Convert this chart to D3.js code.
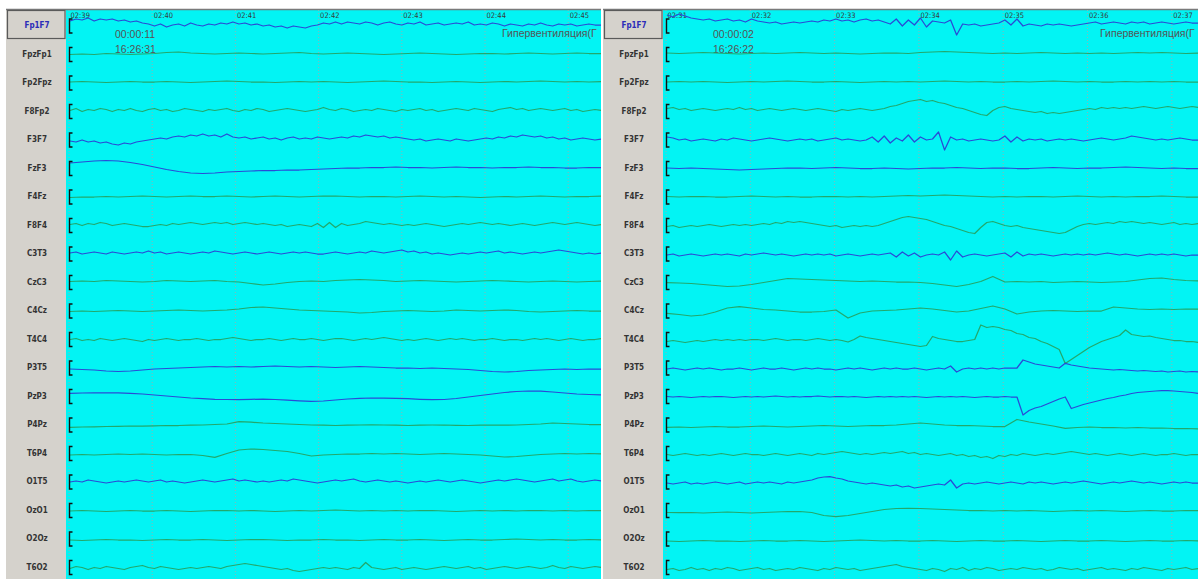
<!DOCTYPE html>
<html>
<head>
<meta charset="utf-8">
<script src="https://cdnjs.cloudflare.com/ajax/libs/d3/7.8.5/d3.min.js"></script>
<style>
	body { margin: 0; background: #fff; }
	svg { display: block; }
</style>
</head>
<body>
<svg id="vis" width="1198" height="579"></svg>
<script>
// montage, top to bottom
var channels = ["Fp1F7", "FpzFp1", "Fp2Fpz", "F8Fp2", "F3F7", "FzF3", "F4Fz", "F8F4", "C3T3", "CzC3",
                "C4Cz", "T4C4", "P3T5", "PzP3", "P4Pz", "T6P4", "O1T5", "OzO1", "O2Oz", "T6O2"];
var blueChannels = ["Fp1F7", "F3F7", "FzF3", "C3T3", "P3T5", "PzP3", "O1T5"];

// page seconds shown on each screen (02:39 = 159 s)
var leftTicks = [159, 160, 161, 162, 163, 164, 165];
var rightTicks = [151, 152, 153, 154, 155, 156, 157];
var leftStamp = ["00:00:11", "16:26:31"];
var rightStamp = ["00:00:02", "16:26:22"];
var eventLabel = "Гипервентиляция(Г";

// amplitudes, screen px, up = positive
var L_Fp1F7 = [4,6,5,7,4,6,5,6,4, 5,3,4,2,1, -1,1,-2,0,1,-1,2,0,-1,1,0,2,1,3, 1,2,0,1,-1,0,-2,-1,-3,-1,-2,-3, -1,0,2,1,3, 1,3,2,1,3,2,0,2,3,1, 0,2,1,3,0,1,2,0,1,2,1,3,0,1,0,2,1,-1, 1,0,-1,1,0,2,0,-1,1,0,1,-1,0,1,0,0];
var L_FpzFp1 = [-1,-0.5,-1,0,-0.5,-1,-0.5,0,1,1.5,0.5,0,-0.5,0,0.5,0,-0.5,0,0.5,1,0,-0.5,0,0.5,0,-0.5,-1,-0.5,0,0.5,0,-0.5,-1,-0.5,0,0,-0.5,0,0.5,0,-0.5,0,0.5,0,0];
var L_Fp2Fpz = [0,0.5,0,-0.5,0,0.5,0,0,0.5,0,-0.5,0,0.5,1,0.5,0,0,-0.5,0,0.5,0,0.5,0,-0.5,0,0.5,1,0.5,0,0,-0.5,0,0.5,0,-0.5,0,0.5,0,0.5,1,0.5,0,0.5,0,0.5];
var L_F8Fp2 = [0,2,-1,1,0,2,1,-1,1,0,2,0,-1,1,2,0,1,-1,0,2,1,0,-1,1,0,1,2,0,-1,1,0,2,1,-1,0,1,2,1,0,-1,0,1,3,1,0,2,1,-1,0,1,0,2,1,0,-1,1,0,1,2,0,1,-1,0,1,2,1,0,2,1,0,-1,1,2,3,1,2,0,1,2,1,0,1,2,0,1,-1,0,1,0];
var L_F3F7 = [-2,-3,-1,-3,-2,-4,-3,-5,-6, -4,-5,-3,-2,-1,0,1,0,2,3,2,4, 3,5,3,4,2,5, 2,1,2,0,1,2,0,1,-1,1,2,0,1,0,2,1,0, 1,2,1,3,2,4,3,2,3,1,2,1,0, -1,0,-2,-1,0,-1,-2,0,-1,-2,-1,0, 1,0,2,1,3,2,4,3,2,3, 1,2,0,1,-1,0,1,0,-1,0];
var L_FzF3 = [4.5,5.5,6.5,7,6.5,5,3,0.5,-2,-4,-5.5,-6,-5.5,-4.5,-4,-3.5,-3,-3,-2.5,-2.5,-2,-1.5,-1,-0.5,-0.5,0,0,0.5,0,0,-0.5,0,0.5,0,0,-0.5,0,0,0.5,0,0,-0.5,-0.5,0,0];
var L_F4Fz = [-1.5,-1,-1,-0.5,-1,-0.5,0,-0.5,-1,-0.5,0,-0.5,-0.5,0,-0.5,-1,-0.5,0,-0.5,-1,-0.5,0,0,-0.5,-1,-0.5,-0.5,-1,-0.5,0,-0.5,-1,-0.5,-1,-1.5,-1,-0.5,-1,-0.5,0,-0.5,-1,-0.5,-0.5,0];
var L_F8F4 = [0,1,-1,1,0,2,1,-1,0,1,0,-1,-2, -2,-1,0,-1,1,0,1,2,1,0,1,2, 1,2,0,1,2,1,0,1,0,-1,0,-2,-1,0,-1,-2, 1,-3,2,-3,1,-1, 0,1,3,2,1,0,1,0,-1, 0,-1,0,1,0,-1,-2,-1,0,1,0,1,2,1,0,1,0, -1,0,1,0,-1,0,1,2,1,0,1,2,1,0,-1,0];
var L_C3T3 = [0,1,-1,0,1,0,-1,1,0,-1,0,1,0,2,0,1,-1,0,1,0,-1,0,1,0,2,1,0,-1,0,1,0,-1,0,1,0,-1,0,1,0,1,0,-1,-1,0,1,0,-1,0,1,0,2,1,0,1,2,3,1,2,0,1,-1,0,-1,-2,-1,0,-1,0,1,0,1,2,0,1,0,-1,0,1,0,1,2,3,2,1,0,-1,0,-1,0];
var L_CzC3 = [0,0.5,0,1,0.5,0,-0.5,0,1,0.5,0,0.5,1,0,-0.5,-2,-3.5,-2.5,-1,0,0.5,0,1,1.5,2,1.5,1,0,0.5,1,0.5,0,-0.5,0,0.5,1,0.5,0,-0.5,0,0.5,0,-0.5,0,0.5];
var L_C4Cz = [-1.5,-1,-1.5,-1,-0.5,-1,-1.5,-1,-0.5,0,-0.5,-1,-0.5,0,1,2.5,3,2,1,0,-0.5,-1,-1.5,-2,-3,-2.5,-1.5,-1,-0.5,-1,-1.5,-1,0,-0.5,-1,-0.5,0,-0.5,-1.5,-2,-1.5,-1,-0.5,-1,-1];
var L_T4C4 = [-1,0,-2,-1,-2,0,-1,-2,-1,0,-1,-2,-3,-1,-2,-1,0,-1,-2,-1,-1,0,-1,-2,-1,-1,0,1,0,-1,-2,-1,-1,0,-1,-2,-1,0,-1,-1,0,-1,-2,-1,0,0,-1,-2,-1,0,-1,0,1,0,-1,-2,-1,-2,-1,0,-1,-2,-1,0,-1,0,-1,-2,-1,-1,0,-1,-2,-1,-1,-2,-1,0,-1,0,-1,-2,-1,0,-1,-2,-1,-1,0];
var L_P3T5 = [-2,-2.5,-3,-4,-4.5,-4,-3,-2,-1.5,-1,-0.5,0,0.5,0,0.5,0,0.5,1,0.5,0,0.5,0,-0.5,0,0.5,0,-0.5,-1,-1,-1.5,-1,-1.5,-2,-2.5,-3.5,-4.5,-5,-4.5,-3.5,-3,-2.5,-2,-2.5,-2,-2];
var L_PzP3 = [2.2,2.5,2.7,2.7,2.6,2.2,1.5,0.5,-0.5,-1.5,-2.5,-3.2,-3.8,-4,-4,-3.8,-3.6,-4,-4.6,-5.3,-5.8,-5.5,-4.5,-3.5,-2.8,-2.5,-2.6,-2.8,-3.2,-3.8,-4.2,-4,-3,-1.5,0,1.5,3,4,4.5,4.3,3.5,2.5,1.5,1,0.5];
var L_P4Pz = [-3.3,-3,-2.8,-2.5,-2.3,-2,-2,-1.8,-1.5,-1.5,-1.2,-1,-0.5,0,2.3,1.8,1,0.5,0,-0.5,-1,-1.2,-1.5,-1.2,-1,-0.8,-1,-1.2,-1.5,-1.2,-1,-1,-1.3,-1.5,-1.2,-1,-1.2,-1,-0.5,0,1,0.5,0,-0.5,-0.5];
var L_T6P4 = [-2.5,-2,-2.5,-2,-1.5,-2,-1.5,-2,-2.5,-2,-2,-3,-4.8,-1,2.5,3.5,3,2,1,-1,-3.5,-2.5,-2,-1.5,-1.5,-1,-1.5,-1,-1.5,-2,-1.5,-1,-1.5,-2,-2.5,-3.5,-4.5,-4,-3,-2,-1.5,-1,-1.5,-1,-1.5];
var L_O1T5 = [-1,0,-1,1,0,-1,-2,-1,0,-1,0,1,0,-1,0,1,-1,0,-1,-2,-1,0,1,0,-1,0,1,2,0,1,0,-1,0,-1,0,1,0,2,1,0,-1,-2,-1,0,1,0,1,2,0,-1,0,1,0,-1,0,-1,-2,-1,0,-1,0,1,0,-1,0,1,0,-1,-2,-1,0,1,0,1,2,1,0,-1,0,1,2,0,1,2,0,-1,0,1,0];
var L_OzO1 = [-1.5,-1,-1.5,-2,-1.5,-1,-1.5,-1.5,-1,-1.5,-2,-1.5,-1,-1,-1.5,-1,-1.5,-2,-1.5,-1,-1.5,-1,-0.5,-1,-1.5,-1,-1.5,-1,-1.5,-1,-1,-1.5,-2,-1.5,-1,-1.5,-1,-1.5,-1,-1,-1.5,-1,-1.5,-1,-1];
var L_O2Oz = [-2,-2.5,-2,-1.5,-2,-2,-2.5,-2,-1.5,-2,-2,-1.5,-2,-2.5,-2,-1.5,-1.5,-2,-2.5,-2,-2,-1.5,-2,-2,-2.5,-2,-1.5,-2,-2,-1.5,-2,-2.5,-2,-1.5,-2,-2,-1.5,-1,-1.5,-2,-1.5,-2,-2,-1.5,-2];
var L_T6O2 = [-2,0,-1,-3,-1,-2,0,-1,-2,-3,-1,0,1,-1,-2,0,-1,-2,-3,-2,-1,-2,-1,0,-1,-2, 0,1,2,3,2,1,0, -1,-2,-3,-2,-4,-5,-4,-3,-2,-1, -2,-1,-2,-3,-1,-2,4,-1,-2,-3, -2,-1,-3,-2,-1,-2,-3,-2,-1,0,-1,-2,-1,0,-2,-1,-3,-2,-1,0,-1,-2,-1,0,-1,-2,-1,1,-1,-2,0,-1,-2,-1,0,-1];

var R_Fp1F7 = [10,8,11,9,7,6, 5,6,4,5,6,4,5,3,6,4, 3,2,3,1,2,3,2, 3,4,3,5,4,6,4,5,3,5,6,4,5, 3,1,6,-1,5,0,7,-2,4,3, 2,5,-10,1, 0,1,-1,0,1,2, 5,0,6,-1, 1,0,-1,1,0,1,0,-1,0,1, 2,3,1,2,3,2,1,3,2,3,1,2,3,2,1,2,3,2,2];
var R_FpzFp1 = [0.5,0,0.5,1,0.5,0,-0.5,0,0.5,0,0.5,1,0.5,0,0.5,0,-0.5,0,0.5,0.5,0,1,1.5,2,1.5,1,0.5,0,0.5,0,0.5,1,0.5,0,0.5,0,0.5,0,0.5,1,0.5,1,0.5,0,0.5];
var R_Fp2Fpz = [0,0.5,0,0.5,0,-0.5,0,0.5,0,0.5,1,0.5,0,0,0.5,0,-0.5,0,0.5,0,0.5,0,0.5,1,0.5,0,0.5,0,0,0.5,0,0.5,1,0.5,0,0.5,0,0,0.5,0,0.5,0,0.5,0,0];
var R_F8Fp2 = [2,3,1,2,0,1,2,1,0,1,2,1,3,1,2,0,1,2,1,0,1, 2,1,0,1,2,1,0,-1,1,0,1,2,1,0,1, 2,4,5,7,9,10, 11,9,10,8,7,5, 3,2,0,-2,-4,-5, 0,3,4,2, 1,0,-1,-2,-1,-3,-2,-3,-2, -1,0,1,2,1,3,2,3,2, 3,2,3,4,3,2,3,4,3,2,3,4,3];
var R_F3F7 = [2,1,-1,0,-2,-1,0,-1,-2,0,-1,1,0,-1,-2,-1,0,1,0,-1,-2,-1,0,-1,0,-2,-1,0,1,-1,0,-1,-2,-1, 2,-3,3,-4,1,-2,4,-3,2,-1, 0,7,-11,2, -1,0,-2,-1,0,-1,-2,-1, 3,-3,2,-2, 0,-1,0,-2,-1,0,-1,0,-1,-2,-1,0,1,0,-1,0,1,3,2,1,0,-1,0,-1,0,1,0,-1,-1];
var R_FzF3 = [-0.5,-1,-0.5,-1,-1.5,-2,-2.5,-2,-1.5,-1,-0.5,-0.5,-1,-0.5,0,-0.5,-1,-1,-0.5,-1,-1.5,-1,-0.5,-0.5,0,-0.5,-1,-0.5,-0.5,-1,-1,-0.5,0,-0.5,-1,-0.5,-0.5,0,0.5,0,-0.5,-1,-0.5,-1,-1];
var R_F4Fz = [-0.5,-1,-0.5,-0.5,-1,-1,-0.5,0,-0.5,-1,-0.5,-1,-1,-0.5,-0.5,-1,-0.5,-1,-0.5,0,0.5,0,0.5,1,0.5,0,-0.5,-1,-0.5,-1,-0.5,-0.5,-1,-0.5,0,-0.5,-1,-0.5,-1,-0.5,-0.5,0,-0.5,-1,-1];
var R_F8F4 = [-2,-1,-3,-2,-1,-2,-1,0,-1,-2,-1,0,-1,0,-1,0, 1,0,2,1,3,2,3, 2,1,0,-1,-2,-1,-3,-2,-1,-2,-1,-2,-1, 1,3,5,7,8, 7,6,5,3,1,-1, -2,-4,-6,-8,-9, -3,2,3, 1,-1,-2,-1, -3,-4,-5,-6,-7,-8,-9,-8, -5,-2,0,1, 0,1,2,1,3,2,3,2, 1,2,1,0,1,2,0,1,0,1];
var R_C3T3 = [-2,-1,-3,-2,-1,-2,-3,-2,-1,-2,-1,-2,-3,-1,-2,-1,0,-1,-2,-1,-2,-3,-2,-1,-2,-1,-2,-1,-3,-2,-1,-2,-3,-2,-1,-2,-1, 0,-4,1,-3,0,-4, -2,-1,-2,1,-7,2,-4, -2,-1,-2,-3,-2,-1, 0,-4,1,-3,-1, -2,-1,-2,-3,-2,-1,-2,-1,-2,-1,-2,-1,0,-1,-2,-1,-2,-3,-2,-1,-2,-1,-2,-1,-2,-3,-2,-2];
var R_CzC3 = [-1.2,-1.5,-2,-3,-4,-5,-4.5,-3,-1,1,3,2.5,2,1.5,1,0.5,0,0.5,0,-0.5,-0.5,-1,-2,-3.5,-5,-3,0,5,-0.5,0,-0.5,0,-1,-0.5,0,-0.5,-1,-0.5,0,1.5,3,3.5,2,1,0.5];
var R_C4Cz = [-3.3,-4.5,-6,-5,-2,2,3.3,2,0.5,0,-1,-2,-2,-1.5,0,-8,-3,-1,-0.5,0,1,2,1,-0.5,-2,-1,1.5,4,1,-4,-2,-1,-0.5,-1,-1.5,-1,-1,3,2,1,0.5,1,0.5,1,1];
var R_T4C4 = [-3,-2,-3,-4,-3,-2,-3,-2,-1,-2,-1,-2, -1,-2,-1,-1,-2,-1,0,-1,-2,-1,-1,-2,-1,0,-1,-2,-1,-2, -3.5,-1, 2.5,1,0,-1,-2,-3,-4,-5,-6,-7, -8,-7, 2,0,-1,-2,-3, -3,-2,-1, 13.5,11,12,11, 9,8,5,4,1,0,-3,-5,-8,-11, -25, -21,-17,-13,-9,-6,-3,-1,1, 3,8.5, 4,3,2,2.5,1,0,-1,-2,-2,-3,-3,-4];
var R_P3T5 = [-2,-1,-2,-3,-2,-1,-2,-1,-2,-3,-2,-2,-1,-2,-3,-2,-1,-2,-2,-1,-2,-3,-2,-1,-2,-1,-2,-2,-3,-2,-1,-2,-1,-2,-3,-2,-1,-2,-1,-2,-2,-1,-2,-3,-2,-1,-2, 1,-5,-2, -1,-2,-1,-2,-1,-2,-1,-1, -1, 7, 5,3,2,1,0,-1, 3.7,2, 1,0,-1,-1.5,-2,-2.5,-3,-2.5,-3,-3.5,-4,-3.5,-4,-4.5,-4,-5,-4.5,-4,-5,-4.5,-5];
var R_PzP3 = [-1,-1.5,-1,-1.5,-2,-1.5,-1,-1.5,-1,-1,-1.5,-2,-1.5,-1,-1.5,-1,-1.5,-1,-0.5,-1,-1.5,-1,-1.5,-1,-1,-0.5,-1,-1.5,-1,-1,-1.5,-1,-1.5,-2,-1.5,-1,-1.5,-1,-1.5,-1,-1.5,-1,-1.5,-2,-1.5,-1,-1.5,-1,-1.5,-1,-1.5,-2,-1.5,-1,-1.5,-1.5,-1,-1.5,-1.5, -19.5,-15,-12.5,-11,-8.5,-6,-3.5,-1.5, -13,-11,-9,-7.5,-6,-4.5, -3,-2,-0.5,0.5,2,3,3.5,4,4.5,4.8,4.8,4.5,4,3.5,3,2.2];
var R_P4Pz = [-3.3,-3,-3.5,-3,-2.5,-3,-3,-2.5,-2,-2.5,-3,-2.5,-2,-1.5,-2,-2.5,-2,-1.5,-1.5,-1,0,1,0,-1,-1.5,-1.5,-2,-2.5,-2.5,4.5,2,0,-2,-4.3,-3.5,-3,-3.5,-3.5,-4,-3.5,-4,-4,-4.5,-4.5,-5];
var R_T6P4 = [-2,-3,-2,-1,-2,-3,-2,-3,-2,-1,-2,-3,-2,-1,-2,-2,-3,-2,-1,-2,-3,-2,-1,-2,-3,-1,-2,-1,0,1,0,-1,-2,-1,-2,-1,0,-1,0,1,-1,0,-2,-1,-2,-3,-2,-1,-3,-2,-4,-3,-5,-4,-6,-3,-4,-2,-3,-1,-2,-3,-2,-1,-2,-1,0,1,0,-1,-2,-1,-2,-3,-2,-1,-2,-3,-2,-1,-2,-3,-2,-2,-1,-2,-3,-2,-2];
var R_O1T5 = [-2,-3,-2,-1,-3,-2,-3,-2,-1,-2,-3,-2,-1,-3,-2,-1,-2,-1,-2,-3,-1,-2,-1,0,1,3,4,4.3,3,2,0,-1,-2,-3,-2,-3,-4,-5,-4,-6,-5,-7,-6,-5,-4,-3,-4,1,-7,-3,-2,-3,-2,-1,-2,-3,-2,-1,-2,-3,-1,-2,-1,-2,-3,-2,-1,-2,-1,0,-1,-2,-3,-2,-1,-2,-1,0,-1,-2,-1,-2,-3,-2,-1,-2,-1,-2,-2];
var R_OzO1 = [-3,-3.2,-3,-3.5,-3,-2.5,-3,-3.5,-3,-2.5,-2,-2,-3,-6,-7.2,-6,-4,-2,0,1,1.2,1,0.5,0,-0.5,-1,-1,-1.5,-1,-1.5,-1,-1.5,-2,-1.5,-1,-1.5,-1,-1.5,-2,-1.5,-1,-1.5,-1.5,-1,-1];
var R_O2Oz = [-3,-3.5,-3,-2.5,-3,-3,-3.5,-3,-2.5,-3,-3,-2.5,-3,-3.5,-3,-2.5,-2,-2.5,-3,-2.5,-3,-3,-2.5,-3,-3.5,-3,-2.5,-3,-3,-2.5,-3,-3.5,-3,-2.5,-3,-3,-2.5,-3,-3.5,-3,-2.5,-3,-3,-2.5,-3];
var R_T6O2 = [-3,-2,-4,-3,-1,-3,-2,-4,-2,-3,-1,-2,-4,-3,-2,-1,-3,-2,-4,-3,-2,-3,-1,-2,-3,-4,-2,-3,-1,-2,-3,-2,-4,-3,-2,-1,0,1,2,0,-1,-2,-3,-4,-2,-3,-5,-2,-3,-1,-4,-2,-3,-1,-2,-4,-3,-2,-3,-1,-2,-3,-2,-4,-3,-1,-2,-3,-2,-4,-3,-2,-1,-3,-2,-3,-4,-2,-3,-1,-2,-3,-4,-2,-3,-2,-1,-3,-2];

var leftTraces = [L_Fp1F7, L_FpzFp1, L_Fp2Fpz, L_F8Fp2, L_F3F7, L_FzF3, L_F4Fz, L_F8F4, L_C3T3, L_CzC3,
                  L_C4Cz, L_T4C4, L_P3T5, L_PzP3, L_P4Pz, L_T6P4, L_O1T5, L_OzO1, L_O2Oz, L_T6O2];
var rightTraces = [R_Fp1F7, R_FpzFp1, R_Fp2Fpz, R_F8Fp2, R_F3F7, R_FzF3, R_F4Fz, R_F8F4, R_C3T3, R_CzC3,
                   R_C4Cz, R_T4C4, R_P3T5, R_PzP3, R_P4Pz, R_T6P4, R_O1T5, R_OzO1, R_O2Oz, R_T6O2];

function whenDocumentLoaded(action) {
	if (document.readyState === "loading") {
		document.addEventListener("DOMContentLoaded", action);
	} else {
		action();
	}
}

function mmss(s) {
	return d3.format("02")(Math.floor(s / 60)) + ":" + d3.format("02")(s % 60);
}

class Panel {
	constructor(svg, opts) {
		this.svg = svg;
		this.opts = opts;
		this.left = opts.left;            // gray label column starts here
		this.sigX = opts.left + 60;       // signal area starts here
		this.right = opts.right;
		this.time = d3.scaleLinear().domain([opts.ticks[0], opts.ticks[opts.ticks.length - 1]])
		                            .range([this.sigX + 3, this.sigX + 3 + opts.secWidth * (opts.ticks.length - 1)]);
		this.row = d3.scalePoint().domain(channels).range([25, 566.5]);
		this.amp = d3.scaleLinear().domain([-10, 10]).range([10, -10]);
	}

	redraw() {
		var svg = this.svg, o = this.opts, self = this;
		var g = svg.append("g");

		// frame
		g.append("rect").attr("x", this.left).attr("y", 10).attr("width", this.right - this.left).attr("height", 569)
		 .attr("fill", "#d5d2cc");
		g.append("rect").attr("x", this.sigX).attr("y", 10).attr("width", this.right - this.sigX).attr("height", 569)
		 .attr("fill", "#02f4f4");
		g.append("line").attr("x1", this.left).attr("x2", this.right).attr("y1", 9.5).attr("y2", 9.5)
		 .attr("stroke", "#7a7a7a").attr("stroke-width", 1.5);

		var clipId = "clip" + o.id;
		svg.append("clipPath").attr("id", clipId)
		   .append("rect").attr("x", this.sigX).attr("y", 10).attr("width", this.right - this.sigX).attr("height", 569);
		var sig = g.append("g").attr("clip-path", `url(#${clipId})`);

		// dotted second grid
		sig.selectAll("line.grid").data(o.ticks).enter().append("line")
		   .attr("class", "grid")
		   .attr("x1", d => this.time(d)).attr("x2", d => this.time(d))
		   .attr("y1", 10).attr("y2", 579)
		   .attr("stroke", "#8fb3b3").attr("stroke-width", 1).attr("stroke-dasharray", "1,2");

		// second labels
		var axis = d3.axisTop(this.time).tickValues(o.ticks).tickSize(0).tickFormat(mmss);
		var ax = sig.append("g").attr("transform", "translate(0,17.5)").call(axis);
		ax.select(".domain").remove();
		ax.selectAll("text")
		  .attr("x", 1).attr("y", 0).attr("dy", 0)
		  .style("text-anchor", "start")
		  .style("font-family", "'Liberation Sans Narrow', 'DejaVu Sans Condensed', 'Liberation Sans', sans-serif")
		  .style("font-size", "7.5px")
		  .attr("fill", "#3a3a3a");

		// stamps and event mark
		sig.selectAll("text.stamp").data(o.stamp).enter().append("text")
		   .attr("class", "stamp")
		   .attr("x", this.sigX + o.stampDx)
		   .attr("y", (d, i) => 37.5 + i * 15)
		   .text(d => d)
		   .style("font-family", "'Liberation Sans', Arial, sans-serif")
		   .style("font-size", "10.5px")
		   .attr("fill", "#555");
		sig.append("text")
		   .attr("x", this.right - o.eventDx).attr("y", 37)
		   .text(eventLabel)
		   .style("font-family", "'Liberation Sans', Arial, sans-serif")
		   .style("font-size", "10.5px")
		   .attr("fill", "#555");

		// traces
		var t0 = this.time.invert(this.sigX + 4), t1 = this.time.invert(this.right);
		var rows = channels.map((c, i) => ({ name: c, values: o.traces[i] }));
		var line = d3.line()
		             .x((d, i, arr) => self.time(t0 + i * (t1 - t0) / (arr.length - 1)))
		             .y(d => self.amp(d));
		sig.selectAll("path.trace").data(rows).enter().append("path")
		   .attr("class", "trace")
		   .attr("transform", d => `translate(0,${this.row(d.name)})`)
		   .attr("d", d => line(d.values))
		   .attr("fill", "none")
		   .attr("stroke", d => blueChannels.indexOf(d.name) >= 0 ? "#2a4ad6" : "#22a86c")
		   .attr("stroke-width", 1.25)
		   .attr("stroke-linejoin", "round");

		// calibration brackets
		var bx = this.sigX + 3.5;
		sig.selectAll("path.bracket").data(rows).enter().append("path")
		   .attr("class", "bracket")
		   .attr("d", d => {
			   var y = this.row(d.name);
			   return `M${bx + 3},${y - 6}H${bx}V${y + 8}H${bx + 3}`;
		   })
		   .attr("fill", "none").attr("stroke", "#111").attr("stroke-width", 1.4);

		// channel names
		g.append("rect").attr("x", this.left + 1.5).attr("y", 10.5).attr("width", 57.5).attr("height", 28)
		 .attr("fill", "#d5d2cc").attr("stroke", "#5a5a5a").attr("stroke-width", 1.2);
		g.selectAll("text.ch").data(channels).enter().append("text")
		 .attr("class", "ch")
		 .attr("x", this.left + 31)
		 .attr("y", d => this.row(d) + 3)
		 .attr("text-anchor", "middle")
		 .text(d => d)
		 .style("font-family", "'Liberation Sans Narrow', 'DejaVu Sans Condensed', 'Liberation Sans', sans-serif")
		 .style("font-weight", "bold")
		 .style("font-size", "8px")
		 .attr("fill", (d, i) => i === 0 ? "#2b2bb8" : "#333");
	}
}

whenDocumentLoaded(() => {
	var svg = d3.select("#vis");
	svg.append("rect").attr("width", 1198).attr("height", 579).attr("fill", "#fff");
	var left = new Panel(svg, { id: "L", left: 6, right: 601, ticks: leftTicks, secWidth: 83.2,
	                            stamp: leftStamp, stampDx: 49, eventDx: 99, traces: leftTraces });
	left.redraw();
	var right = new Panel(svg, { id: "R", left: 603, right: 1198, ticks: rightTicks, secWidth: 84.3,
	                             stamp: rightStamp, stampDx: 50, eventDx: 98, traces: rightTraces });
	right.redraw();
});
</script>
</body>
</html>
